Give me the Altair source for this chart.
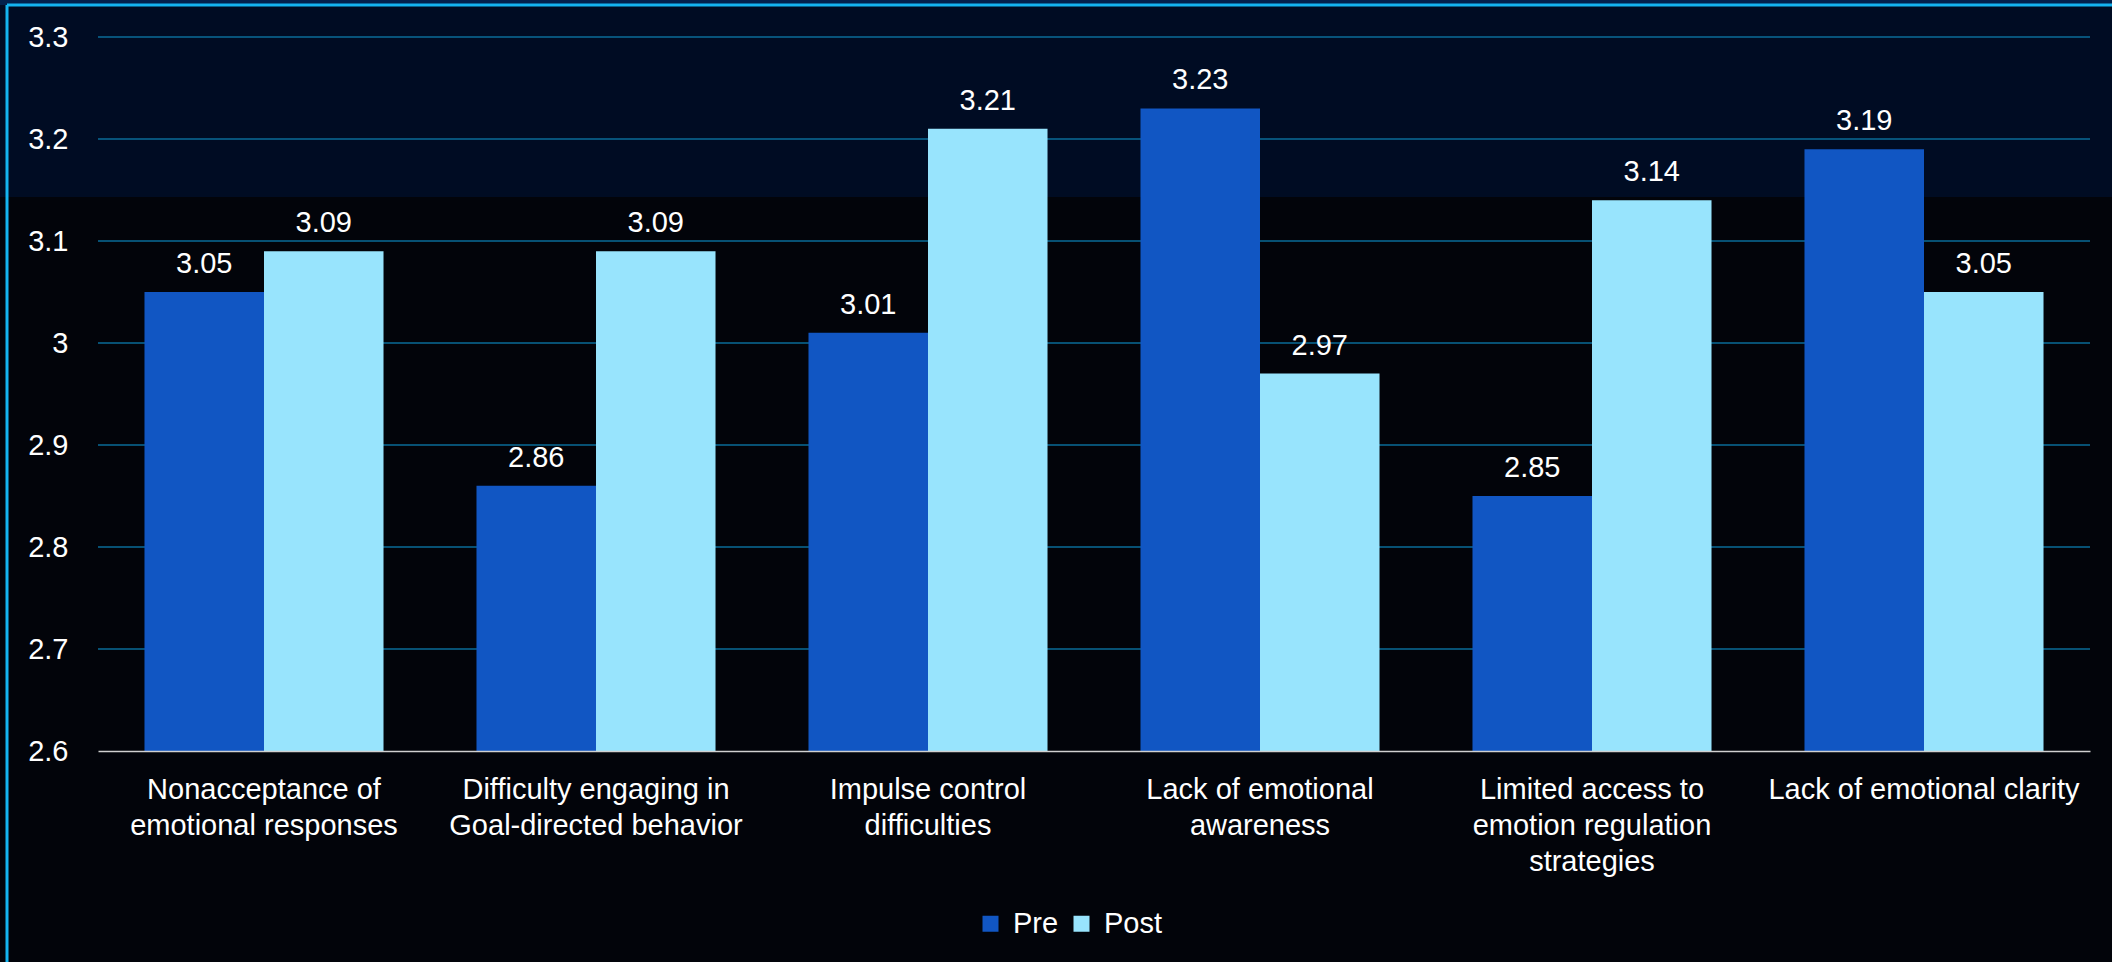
import json
import altair as alt
import pandas as pd

# Subscales of the emotion-regulation questionnaire, pre vs post means
categories = [
    "Nonacceptance of emotional responses",
    "Difficulty engaging in Goal-directed behavior",
    "Impulse control difficulties",
    "Lack of emotional awareness",
    "Limited access to emotion regulation strategies",
    "Lack of emotional clarity",
]
label_lines = [
    ["Nonacceptance of", "emotional responses"],
    ["Difficulty engaging in", "Goal-directed behavior"],
    ["Impulse control", "difficulties"],
    ["Lack of emotional", "awareness"],
    ["Limited access to", "emotion regulation", "strategies"],
    ["Lack of emotional clarity"],
]
series = ["Pre", "Post"]
pre_values = [3.05, 2.86, 3.01, 3.23, 2.85, 3.19]
post_values = [3.09, 3.09, 3.21, 2.97, 3.14, 3.05]
y_ticks = [2.6, 2.7, 2.8, 2.9, 3.0, 3.1, 3.2, 3.3]

series_colors = ["#1156c3", "#98e4fd"]
FONT = "Liberation Sans"
W, H = 1992, 714
PAD = {"left": 98, "top": 37, "right": 22, "bottom": 211}

rows = []
for cat, p, q in zip(categories, pre_values, post_values):
    rows.append({"category": cat, "series": "Pre", "value": p})
    rows.append({"category": cat, "series": "Post", "value": q})
df = pd.DataFrame(rows)
grid_df = pd.DataFrame({"value": y_ticks[1:]})
one = pd.DataFrame({"k": [0]})

label_map = json.dumps(dict(zip(categories, label_lines)))
y_scale = alt.Scale(domain=[y_ticks[0], y_ticks[-1]], nice=False, zero=False)
y_axis = alt.Axis(
    title=None,
    values=y_ticks,
    format="~g",
    labelFont=FONT,
    labelFontSize=29,
    labelColor="#ffffff",
    labelPadding=30,
    ticks=False,
    domain=False,
    grid=False,
    zindex=1,
)
x_enc = alt.X(
    "category:N",
    sort=categories,
    scale=alt.Scale(paddingInner=0.28, paddingOuter=0.14),
    axis=alt.Axis(
        title=None,
        labelAngle=0,
        labelFont=FONT,
        labelFontSize=29,
        labelColor="#ffffff",
        labelPadding=24,
        labelLineHeight=36,
        labelLimit=500,
        labelExpr=f"{label_map}[datum.label]",
        ticks=False,
        domain=True,
        domainColor="#d0d0d0",
        domainWidth=1.5,
        grid=False,
        zindex=1,
    ),
)
x_off = alt.XOffset("series:N", sort=series, scale=alt.Scale(paddingInner=0))

# Slide backdrop: dark navy top band, bright frame lines
top_band = alt.Chart(one).mark_rect(color="#000c23").encode(
    x=alt.value(-PAD["left"]), x2=alt.value(W + PAD["right"]),
    y=alt.value(-PAD["top"]), y2=alt.value(160),
)
top_strip = alt.Chart(one).mark_rect(color="#03214c").encode(
    x=alt.value(-PAD["left"]), x2=alt.value(W + PAD["right"]),
    y=alt.value(-PAD["top"]), y2=alt.value(-32),
)
frame_top = alt.Chart(one).mark_rule(color="#14b4f0", strokeWidth=3).encode(
    x=alt.value(-91), x2=alt.value(W + PAD["right"]),
    y=alt.value(-32),
)
frame_left = alt.Chart(one).mark_rule(color="#14b4f0", strokeWidth=3).encode(
    x=alt.value(-91), y=alt.value(-32), y2=alt.value(H + PAD["bottom"]),
)

# Horizontal gridlines above 2.6, with the value axis
grid = alt.Chart(grid_df).mark_rule(color="#0a6b98", strokeWidth=1.6).encode(
    y=alt.Y("value:Q", scale=y_scale, axis=y_axis),
)

bars = alt.Chart(df).mark_bar().encode(
    x=x_enc,
    xOffset=x_off,
    y=alt.Y("value:Q", scale=y_scale, axis=y_axis),
    y2=alt.datum(y_ticks[0]),
    color=alt.Color(
        "series:N",
        sort=series,
        scale=alt.Scale(domain=series, range=series_colors),
        legend=alt.Legend(
            title=None,
            orient="none",
            legendX=878,
            legendY=872,
            direction="horizontal",
            symbolType="square",
            symbolSize=256,
            symbolStrokeWidth=0,
            labelFont=FONT,
            labelFontSize=29,
            labelColor="#ffffff",
            labelOffset=8,
            columnPadding=8,
        ),
    ),
)

labels = alt.Chart(df).mark_text(
    font=FONT, fontSize=29, color="#ffffff", baseline="alphabetic", dy=-19
).encode(
    x=x_enc,
    xOffset=x_off,
    y=alt.Y("value:Q", scale=y_scale, axis=y_axis),
    text=alt.Text("value:Q", format=".2f"),
)

chart = (
    alt.layer(top_band, top_strip, frame_top, frame_left, grid, bars, labels)
    .properties(
        width=W,
        height=H,
        padding=PAD,
        autosize=alt.AutoSizeParams(type="none"),
        background="#02040a",
    )
    .configure_view(stroke=None)
)

chart.save("out.html", embed_options={"renderer": "svg", "actions": False})
